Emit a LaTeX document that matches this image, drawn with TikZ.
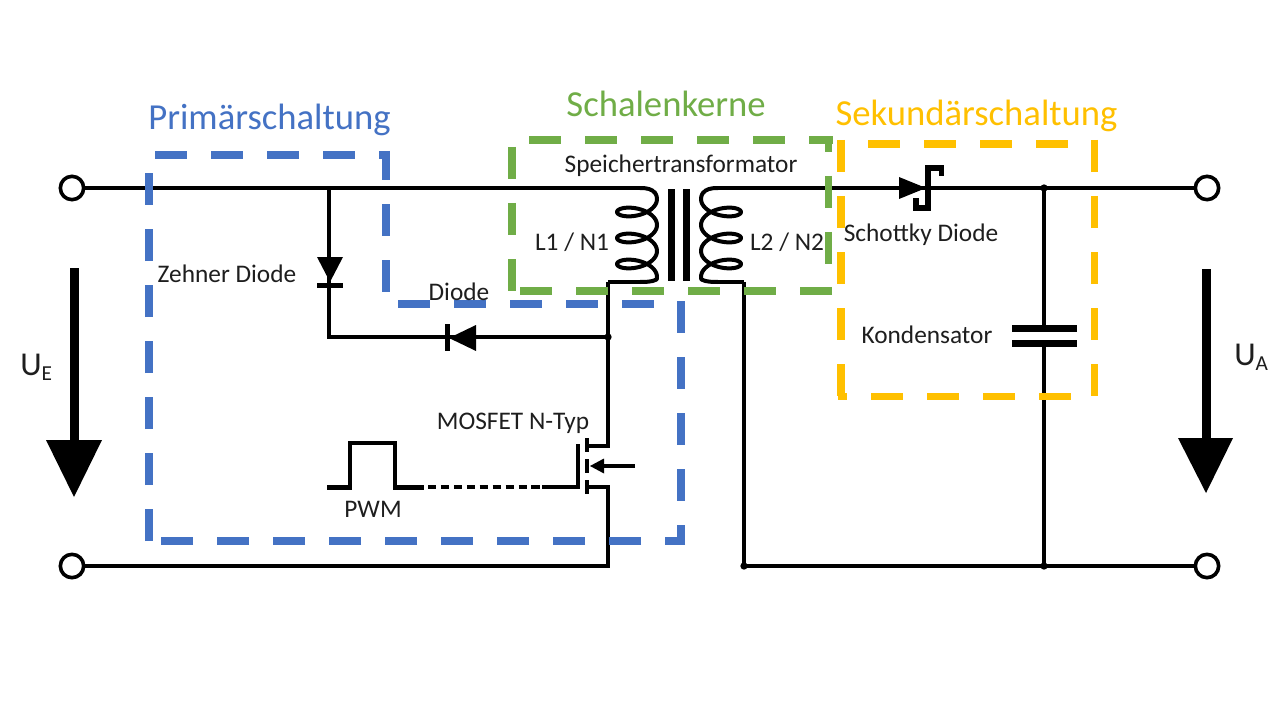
\documentclass[tikz,border=0pt]{standalone}
\usepackage{fontspec}
\setmainfont{Carlito}
\definecolor{cblue}{HTML}{4472C4}
\definecolor{cgreen}{HTML}{70AD47}
\definecolor{cyellow}{HTML}{FFC000}
\definecolor{ctext}{HTML}{1E1E1E}
\tikzset{
  wire/.style={line width=2.6pt,black,line cap=butt,line join=miter},
  fetwire/.style={line width=3pt,black,line cap=butt,line join=miter},
  coil/.style={line width=3pt,black,line join=round},
  bluebox/.style={cblue,line width=5.8pt,dash pattern=on 24pt off 18pt},
  greenbox/.style={cgreen,line width=5.8pt,dash pattern=on 24pt off 18pt},
  yellowbox/.style={cyellow,line width=5.8pt,dash pattern=on 24pt off 18pt},
  terminal/.style={circle,draw=black,fill=white,line width=2.7pt,minimum size=17.5pt,inner sep=0pt},
  junction/.style={circle,fill=black,minimum size=5.5pt,inner sep=0pt},
  title/.style={font=\fontsize{27.5}{32}\selectfont,inner sep=0pt},
  lab/.style={font=\fontsize{19}{23}\selectfont,text=ctext,inner sep=0pt},
  solidpart/.style={fill=black,draw=none},
}
\begin{document}
\begin{tikzpicture}[x=0.75pt,y=-0.75pt]
\useasboundingbox (0,0) rectangle (1280,720);
\fill[white] (0,0) rectangle (1280,720);

% terminals and junctions
\node[terminal] (t1) at (72,188) {};
\node[terminal] (t2) at (72,566) {};
\node[terminal] (t3) at (1207,188) {};
\node[terminal] (t4) at (1207,566) {};
\node[junction] (j1) at (608,337) {};
\node[junction] (j2) at (1044,188) {};
\node[junction] (j3) at (1044,566) {};
\node[junction] (j4) at (744,566) {};
\coordinate (z1) at (329,188);
\coordinate (z2) at (329,337);
\coordinate (c1top) at (640,188);
\coordinate (c1bot) at (640,282);
\coordinate (c2top) at (718,188);
\coordinate (c2bot) at (718,282);
\coordinate (p1) at (608,282);
\coordinate (p2) at (744,282);
\coordinate (drain) at (587,446);
\coordinate (source) at (587,487);
\coordinate (sourcecorner) at (608,487);
\coordinate (draincorner) at (608,446);
\coordinate (bottomcorner) at (608,566);

% wires
\draw[wire] (t1) -- (c1top);
\draw[wire] (c2top) -- (t3);
\draw[wire] (t2) -- (bottomcorner) -- (sourcecorner) -- (source);
\draw[wire] (p1) -- (draincorner) -- (drain);
\draw[wire] (j4.center) -- (t4);
\draw[wire] (p2) -- (j4.center);
\draw[wire] (z1) -- (z2) -- (j1.center);
\draw[wire] (j2.center) -- (1044,328);
\draw[wire] (1044,343) -- (j3.center);

% coils
\draw[coil] (c1top) .. controls (647,188) and (652,189) .. (655,193)
  -- plot[domain=-30:1090,samples=130,variable=\t] ({637+20*cos(\t)},{199+0.07222*\t+10*sin(\t)})
  .. controls (652,282) and (645,282) .. (c1bot);
\draw[wire] (c1bot) -- (p1);
\draw[coil] (c2top) .. controls (711,188) and (706,189) .. (703,193)
  -- plot[domain=-30:1090,samples=130,variable=\t] ({721-20*cos(\t)},{199+0.07222*\t+10*sin(\t)})
  .. controls (706,282) and (713,282) .. (c2bot);
\draw[wire] (c2bot) -- (p2);

% core
\fill[black] (667.5,189) rectangle (674.5,281);
\fill[black] (682.5,189) rectangle (689.5,281);

% zener diode
\fill[solidpart] (317,257) -- (343,257) -- (330,282) -- cycle;
\fill[black] (317,282.5) rectangle (343,288);
% diode
\fill[solidpart] (476,325) -- (476,351) -- (449,338) -- cycle;
\fill[black] (444.5,324) rectangle (449.5,351);

% schottky
\fill[solidpart] (899,177) -- (899,199) -- (926,188) -- cycle;
\draw[line width=3.8pt,black] (941.5,176) -- (941.5,168) -- (928,168) -- (928,208) -- (916,208) -- (916,198);

% capacitor
\fill[black] (1012,324.5) rectangle (1077,331.5);
\fill[black] (1012,339.5) rectangle (1077,346.5);

% mosfet
\draw[fetwire] (587,438) -- (587,452);
\draw[fetwire] (587,459) -- (587,473);
\draw[fetwire] (587,480) -- (587,494);
\draw[fetwire] (578,444) -- (578,487.3) -- (542,487.3);
\draw[wire] (635,466) -- (600,466);
\fill[solidpart] (604,458.5) -- (604,473.5) -- (590,466) -- cycle;

% pwm
\draw[line width=3.6pt,miter limit=10] (327,487.3) -- (350,487.3) -- (350,443) -- (395,443) -- (395,487.3) -- (424,487.3);
\draw[fetwire,dash pattern=on 6.3pt off 3.4pt] (428,487.3) -- (544,487.3);

% voltage arrows
\fill[black] (69.5,268) rectangle (78.5,442);
\fill[solidpart] (46,440) -- (102,440) -- (74,497) -- cycle;
\fill[black] (1201.5,269) rectangle (1210.5,440);
\fill[solidpart] (1178,438) -- (1233,438) -- (1206,493) -- cycle;

% blue box
\draw[bluebox] (155,155) -- (390,155);
\draw[bluebox,dash phase=2pt] (386,151) -- (386,292);
\draw[bluebox] (398,304) -- (660,304);
\draw[bluebox] (681,301) -- (681,545);
\draw[bluebox] (685,541) -- (665,541);
\draw[bluebox] (641,541) -- (161,541);
\draw[bluebox] (149,541) -- (149,173);

% green box
\draw[greenbox] (529,140) -- (833,140);
\draw[greenbox] (828.5,140) -- (828.5,152);
\draw[greenbox] (828.5,176) -- (828.5,264);
\draw[greenbox] (512,147) -- (512,291);
\draw[greenbox] (520,291) -- (833,291);

% yellow box
\draw[yellowbox] (868,144) -- (1068,144);
\draw[yellowbox] (841,140) -- (841,397);
\draw[yellowbox] (1094.5,140) -- (1094.5,397);
\draw[yellowbox] (871,396.5) -- (1071,396.5);
\draw[yellowbox] (838,396.5) -- (847,396.5);

% labels
\node[title,text=cblue] (tprim) at (269.5,119.5) {Primärschaltung};
\node[title,text=cgreen] (tschal) at (666,104) {Schalenkerne};
\node[title,text=cyellow] (tsek) at (976.5,116) {Sekundärschaltung};
\node[lab] (lsp) at (681,166) {Speichertransformator};
\node[lab] (lzd) at (227,274) {Zehner Diode};
\node[lab] (ldi) at (459,292) {Diode};
\node[lab] (ll1) at (572,242) {L1 / N1};
\node[lab] (ll2) at (787,242) {L2 / N2};
\node[lab] (lsd) at (921,235) {Schottky Diode};
\node[lab] (lko) at (927,335) {Kondensator};
\node[lab] (lmo) at (513,423.5) {MOSFET N-Typ};
\node[lab] (lpw) at (373,509.5) {PWM};
\node[text=ctext,inner sep=0pt,anchor=west] (lue) at (20,367) {\fontsize{25}{28}\selectfont U\raisebox{-4pt}{\fontsize{16}{18}\selectfont E}};
\node[text=ctext,inner sep=0pt,anchor=west] (lua) at (1234,357) {\fontsize{25}{28}\selectfont U\raisebox{-4pt}{\fontsize{16}{18}\selectfont A}};
\end{tikzpicture}
\end{document}
